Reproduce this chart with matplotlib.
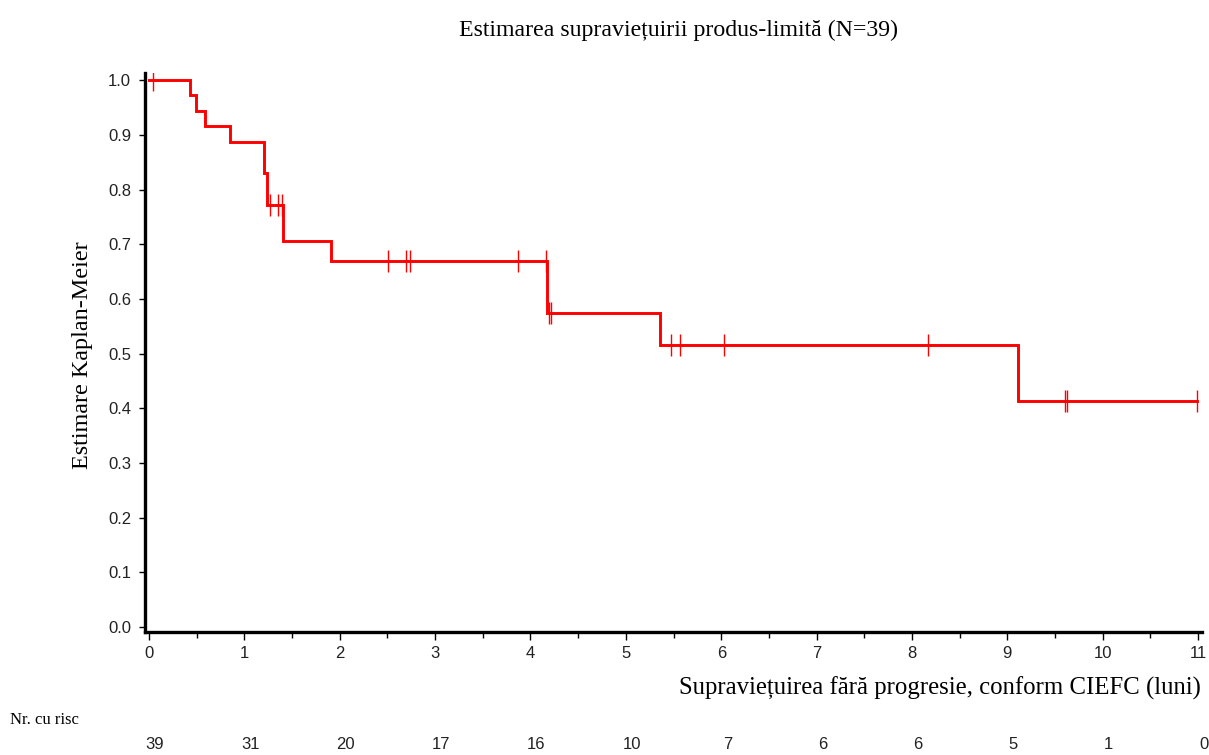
import numpy as np
import matplotlib
matplotlib.use("Agg")
import matplotlib.pyplot as plt
from matplotlib.transforms import offset_copy

# ---- data ----
event_times = [0.0, 0.43, 0.49, 0.59, 0.85, 1.21, 1.24, 1.41, 1.91, 4.17, 5.36, 9.11]
surv_values = [1.0, 0.972, 0.944, 0.916, 0.886, 0.830, 0.771, 0.706, 0.670, 0.574, 0.516, 0.414]
end_time = 10.99
censor_times = [0.04, 1.27, 1.35, 1.39, 2.51, 2.69, 2.74, 3.87, 4.16, 4.19, 4.21,
                5.47, 5.57, 6.03, 8.17, 9.60, 9.62, 10.99]
risk_times = [0, 1, 2, 3, 4, 5, 6, 7, 8, 9, 10, 11]
risk_counts = [39, 31, 20, 17, 16, 10, 7, 6, 6, 5, 1, 0]

title = "Estimarea supraviețuirii produs-limită (N=39)"
ylabel = "Estimare Kaplan-Meier"
xlabel = "Supraviețuirea fără progresie, conform CIEFC (luni)"
risk_label = "Nr. cu risc"

serif = ["Liberation Serif", "DejaVu Serif"]
sans = ["Liberation Sans", "DejaVu Sans"]
narrow = ["Liberation Sans Narrow", "Liberation Sans", "DejaVu Sans"]

fig = plt.figure(figsize=(12.09, 7.55), dpi=100)
ax = fig.add_axes([0.1199, 0.1629, 0.8743, 0.7404])

# step curve
xs = list(event_times) + [end_time]
ys = list(surv_values) + [surv_values[-1]]
ax.step(xs, ys, where="post", color="#ff0000", lw=2.1, solid_joinstyle="miter")

# censor marks
ct = np.array(censor_times)
idx = np.searchsorted(np.array(event_times), ct, side="right") - 1
cy = np.array(surv_values)[idx]
ax.plot(ct, cy, linestyle="none", marker="|", markersize=16, mew=1.0, color="#ff0000")

ax.set_xlim(-0.042, 11.04)
ax.set_ylim(-0.009, 1.013)

for s in ["top", "right"]:
    ax.spines[s].set_visible(False)
for s in ["left", "bottom"]:
    ax.spines[s].set_linewidth(2.4)
    ax.spines[s].set_color("black")

ax.set_xticks(range(0, 12))
ax.set_xticks(np.arange(0.5, 11, 1.0), minor=True)
ax.set_yticks(np.round(np.arange(0, 1.01, 0.1), 1))
ax.set_yticklabels([f"{v:.1f}" for v in np.arange(0, 1.01, 0.1)])
ax.tick_params(axis="x", which="major", length=6, width=1, direction="out", pad=4)
ax.tick_params(axis="x", which="minor", length=4, width=1, direction="out")
ax.tick_params(axis="y", which="major", length=4, width=1, direction="out", pad=6)
for lab in ax.get_xticklabels() + ax.get_yticklabels():
    lab.set_family(sans)
    lab.set_fontsize(12)
    lab.set_color("#222222")

fig.text(0.561, 0.96, title, ha="center", va="center", family=serif, fontsize=17.2)
fig.text(0.068, 0.53, ylabel, ha="center", va="center", rotation=90, family=serif, fontsize=17.4)
fig.text(0.993, 0.089, xlabel, ha="right", va="center", family=serif, fontsize=17.8)
fig.text(0.008, 0.046, risk_label, ha="left", va="center", family=serif, fontsize=12)

fy = 0.0133
ay = (fy - 0.1629) / 0.7404
trans = offset_copy(ax.transData, fig=fig, x=6, y=0, units="dots")
for t, n in zip(risk_times, risk_counts):
    ydata = ax.get_ylim()[0] + ay * (ax.get_ylim()[1] - ax.get_ylim()[0])
    ax.text(t, ydata, str(n), transform=trans, ha="center", va="center",
            family=narrow, fontsize=12, clip_on=False, color="#222222")

fig.savefig("out.png", dpi=100)
